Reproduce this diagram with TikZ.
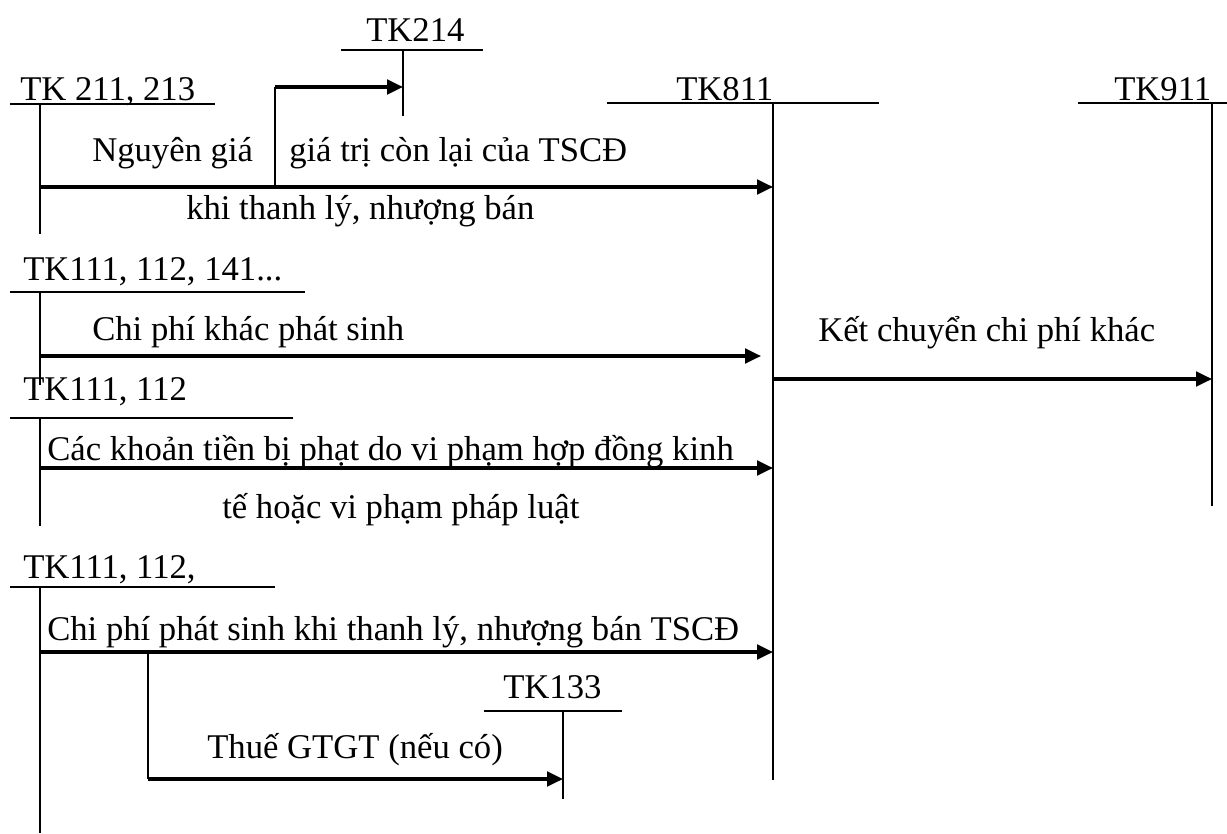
\documentclass[tikz,border=0pt]{standalone}
\usepackage{fontspec}
\setmainfont{Liberation Serif}
\usetikzlibrary{arrows.meta,positioning}

\begin{document}
\begin{tikzpicture}[x=0.75pt, y=-0.75pt, >={Triangle[length=12pt,width=11pt]},
  lbl/.style={anchor=base west, inner sep=0pt, font=\fontsize{26}{31}\selectfont},
  acc/.style={line width=1.5pt},
  flow/.style={->, line width=2.4pt}]
\useasboundingbox (0,0) rectangle (1227,834);

\node[lbl] (tk211) at (20,101) {TK 211, 213};
\draw[acc] (10,104) -- (215,104) (40,104) -- (40,234);
\node[lbl] (tk214) at (366,42) {TK214};
\draw[acc] (341,50) -- (483,50) (403,50) -- (403,116);
\node[lbl] (tk811) at (676,101) {TK811};
\draw[acc] (607,103) -- (879,103) (773,103) -- (773,780);
\node[lbl] (tk911) at (1114,101) {TK911};
\draw[acc] (1078,103) -- (1227,103) (1212,103) -- (1212,506);
\node[lbl] (tk111a) at (23,280) {TK111, 112, 141...};
\draw[acc] (10,292) -- (305,292) (40,292) -- (40,385);
\node[lbl] (tk111b) at (23,400) {TK111, 112};
\draw[acc] (10,418) -- (293,418) (40,418) -- (40,526);
\node[lbl] (tk111c) at (23,578) {TK111, 112,};
\draw[acc] (10,587) -- (275,587) (40,587) -- (40,833);
\node[lbl] (tk133) at (503,698) {TK133};
\draw[acc] (484,711) -- (622,711) (563,711) -- (563,799);

\coordinate (from211) at (40,187);
\coordinate (to811a) at (773,187);
\coordinate (split214) at (275,187);
\coordinate (bend214) at (275,87);
\coordinate (to214) at (403,87);
\coordinate (from111a) at (40,356);
\coordinate (to811b) at (761,356);
\coordinate (from811) at (773,379);
\coordinate (to911) at (1212,379);
\coordinate (from111b) at (40,468);
\coordinate (to811c) at (773,468);
\coordinate (from111c) at (40,652);
\coordinate (to811d) at (773,652);
\coordinate (split133) at (148,652);
\coordinate (bend133) at (148,779);
\coordinate (to133) at (563,779);

\draw[flow] (from211) -- (to811a);
\draw[acc] (split214) -- (bend214);
\draw[flow] (bend214) -- (to214);
\draw[flow] (from111a) -- (to811b);
\draw[flow] (from811) -- (to911);
\draw[flow] (from111b) -- (to811c);
\draw[flow] (from111c) -- (to811d);
\draw[acc] (split133) -- (bend133);
\draw[flow] (bend133) -- (to133);

\node[lbl] (ngia) at (92,162) {Nguyên giá};
\node[lbl] (gtcl) at (289,162) {giá trị còn lại của TSCĐ};
\node[lbl] (ktl) at (186,220) {khi thanh lý, nhượng bán};
\node[lbl] (cpk) at (92,340) {Chi phí khác phát sinh};
\node[lbl] (kc) at (818,341) {Kết chuyển chi phí khác};
\node[lbl] (phat1) at (47,460) {Các khoản tiền bị phạt do vi phạm hợp đồng kinh};
\node[lbl] (phat2) at (222,518) {tế hoặc vi phạm pháp luật};
\node[lbl] (cptl) at (47,640) {Chi phí phát sinh khi thanh lý, nhượng bán TSCĐ};
\node[lbl] (vat) at (207,758) {Thuế GTGT (nếu có)};
\end{tikzpicture}
\end{document}
